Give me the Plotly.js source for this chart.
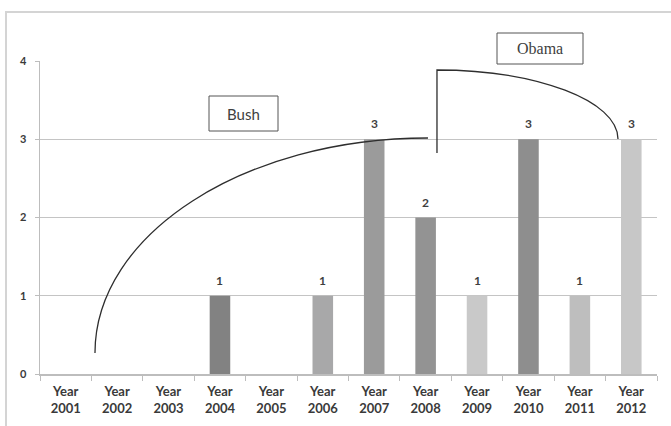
<!DOCTYPE html>
<html>
<head>
<meta charset="utf-8">
<script src="https://cdn.plot.ly/plotly-3.0.1.min.js"></script>
<style>
  html, body { margin: 0; padding: 0; background: #fff; overflow: hidden; }
  #wrap { position: relative; width: 671px; height: 426px; overflow: hidden; }
  #chart { width: 671px; height: 426px; }
  #frame { position: absolute; left: 5px; top: 11px; width: 700px; height: 500px;
           border-left: 2px solid #d4d4d4; border-top: 2px solid #d4d4d4;
           pointer-events: none; }
</style>
</head>
<body>
<div id="wrap">
  <div id="chart"></div>
  <div id="frame"></div>
</div>
<script>
// Number of events per year, 2001-2012
const years = ["2001", "2002", "2003", "2004", "2005", "2006",
               "2007", "2008", "2009", "2010", "2011", "2012"];
const counts = [0, 0, 0, 1, 0, 1, 3, 2, 1, 3, 1, 3];
const tickLabels = years.map(y => "Year<br>" + y);
const barColors = ["#999999", "#999999", "#999999", "#828282", "#999999", "#a8a8a9",
                   "#9b9b9b", "#939393", "#c9c9c9", "#8e8e8e", "#bebebe", "#c7c7c7"];

// Plot-area geometry (pixels) used to place the hand-drawn brackets
const L = 40, R = 657, T = 61, B = 374;
const px = x => (x - L) / (R - L);
const py = y => (B - y) / (B - T);
const pt = (x, y) => px(x).toFixed(4) + "," + py(y).toFixed(4);

// Bush bracket: quarter-ellipse rising from 2001 to the 2008 level
const k = 0.5523;
const bush = "M" + pt(95, 353) +
  " C" + pt(95, 353 - k * 215) + " " + pt(428 - k * 333, 138) + " " + pt(428, 138);
// Obama bracket: vertical stem, then quarter-ellipse down to 2012
const obama = "M" + pt(437, 153) + " L" + pt(437, 70) +
  " C" + pt(437 + k * 181, 70) + " " + pt(618, 139 - k * 69) + " " + pt(618, 139);

const labelFont = "Lato, 'Open Sans', sans-serif";

const trace = {
  type: "bar",
  x: tickLabels,
  y: counts,
  width: 0.4,
  marker: { color: barColors },
  hoverinfo: "x+y"
};

// value labels above each non-empty bar
const valueLabels = counts.map((v, i) => v > 0 ? {
  xref: "x", yref: "y", x: tickLabels[i], y: v,
  text: "<b>" + v + "</b>", showarrow: false,
  xanchor: "center", yanchor: "bottom", yshift: 6,
  font: { family: labelFont, size: 12, color: "#3f3f3f" }
} : null).filter(a => a);

const layout = {
  width: 671, height: 426,
  margin: { l: L, r: 671 - R, t: T, b: 426 - B },
  paper_bgcolor: "rgba(0,0,0,0)",
  plot_bgcolor: "#ffffff",
  showlegend: false,
  xaxis: {
    type: "category",
    tickson: "boundaries",
    ticks: "outside",
    ticklen: 5,
    tickcolor: "#bdbdbd",
    ticklabelstandoff: 5,
    showgrid: false,
    showline: true,
    linecolor: "#bdbdbd",
    linewidth: 1.5,
    tickfont: { family: labelFont, size: 13, color: "#3a3a3a", weight: "bold" },
    fixedrange: true
  },
  yaxis: {
    range: [0, 4],
    dtick: 1,
    ticks: "outside",
    ticklen: 4,
    tickcolor: "#bdbdbd",
    ticklabelstandoff: 6,
    showgrid: true,
    gridcolor: "#c4c4c4",
    gridwidth: 1.2,
    zeroline: false,
    showline: true,
    linecolor: "#bdbdbd",
    linewidth: 1.5,
    tickfont: { family: labelFont, size: 11, color: "#3a3a3a", weight: "bold" },
    fixedrange: true
  },
  shapes: [
    { type: "path", xref: "paper", yref: "paper", path: bush,
      line: { color: "#2e2e2e", width: 1.3 } },
    { type: "path", xref: "paper", yref: "paper", path: obama,
      line: { color: "#2e2e2e", width: 1.3 } },
    // label boxes
    { type: "rect", xref: "paper", yref: "paper",
      x0: px(209), x1: px(278), y0: py(131), y1: py(96),
      line: { color: "#555555", width: 1 }, fillcolor: "#ffffff" },
    { type: "rect", xref: "paper", yref: "paper",
      x0: px(497), x1: px(583), y0: py(64), y1: py(33),
      line: { color: "#555555", width: 1 }, fillcolor: "#ffffff" }
  ],
  annotations: [
    { xref: "paper", yref: "paper", x: px(243.5), y: py(113.5),
      xanchor: "center", yanchor: "middle",
      text: "Bush", showarrow: false,
      font: { family: labelFont, size: 15, color: "#404040" } },
    { xref: "paper", yref: "paper", x: px(540), y: py(48.5),
      xanchor: "center", yanchor: "middle",
      text: "Obama", showarrow: false,
      font: { family: "'Liberation Serif', 'DejaVu Serif', serif", size: 16, color: "#404040" } }
  ].concat(valueLabels)
};

Plotly.newPlot("chart", [trace], layout, { displayModeBar: false, staticPlot: true });
</script>
</body>
</html>
